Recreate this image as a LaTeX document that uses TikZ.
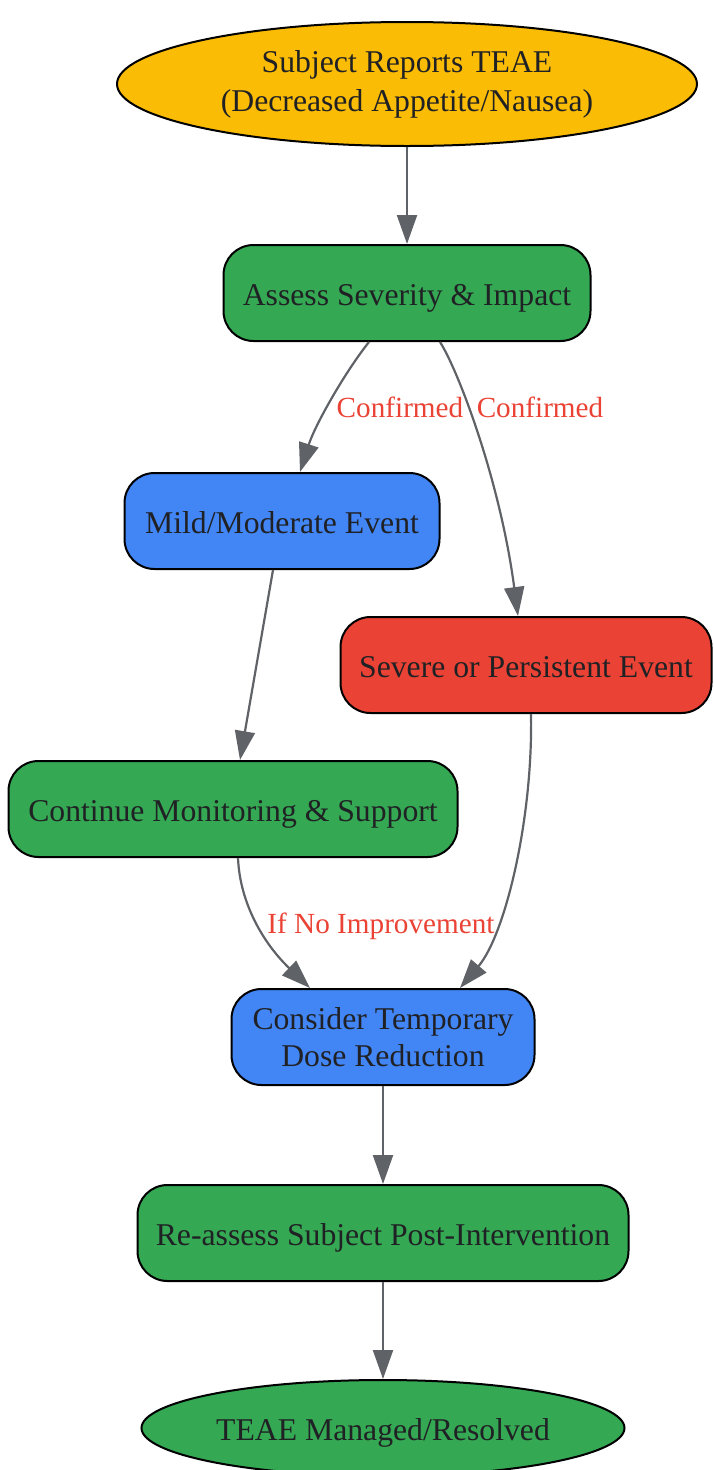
\documentclass[tikz,border=0pt]{standalone}
\usepackage{fontspec}
\setmainfont{Liberation Serif}
\usetikzlibrary{arrows.meta,shapes.geometric}

\definecolor{teaeyellow}{HTML}{FBBC05}
\definecolor{teaegreen}{HTML}{34A853}
\definecolor{teaeblue}{HTML}{4285F4}
\definecolor{teaered}{HTML}{EA4335}
\definecolor{flowgray}{HTML}{5F6368}
\definecolor{textdark}{HTML}{202124}

\tikzset{box/.style={draw=black,line width=2pt,rounded corners=30pt,minimum height=96pt,inner sep=0pt,align=center,text=textdark,font=\fontsize{31.7}{37}\selectfont},
box line/.style={box,text height=30pt,text depth=6pt},
oval/.style={ellipse,draw=black,line width=2pt,inner sep=0pt,align=center,text=textdark,font=\fontsize{31.7}{39}\selectfont},
flow/.style={draw=flowgray,line width=2.2pt,-{Triangle[length=29pt,width=20pt]}},
cond label/.style={text=teaered,font=\fontsize{29.2}{34}\selectfont,anchor=base,inner sep=0pt}}

\begin{document}
\begin{tikzpicture}[x=1pt,y=-1pt]
\useasboundingbox (0,0) rectangle (713,1470);

%% Nodes.
\node [oval,fill=teaeyellow,minimum width=580pt,minimum height=124pt] (report) at (407,84) {Subject Reports TEAE\\(Decreased Appetite/Nausea)};
\node [box line,fill=teaegreen,minimum width=367pt] (assess) at (407,293) {Assess Severity \& Impact};
\node [box line,fill=teaeblue,minimum width=315pt] (mild) at (282,521) {Mild/Moderate Event};
\node [box line,fill=teaered,minimum width=371pt] (severe) at (526,665) {Severe or Persistent Event};
\node [box line,fill=teaegreen,minimum width=449pt] (monitor) at (233,809) {Continue Monitoring \& Support};
\node [box,fill=teaeblue,minimum width=303pt] (dose) at (383,1037) {Consider Temporary\\Dose Reduction};
\node [box line,fill=teaegreen,minimum width=491pt] (reassess) at (383,1233) {Re-assess Subject Post-Intervention};
\node [oval,fill=teaegreen,minimum width=483pt,minimum height=96pt,text height=30pt,text depth=6pt] (resolved) at (383,1428) {TEAE Managed/Resolved};

%% straight edges
\draw [flow] (report) -- (assess);
\draw [flow] ([xshift=-9pt]mild.south) -- ([xshift=7pt]monitor.north);
\draw [flow] (dose) -- (reassess);
\draw [flow] (reassess) -- (resolved);

%% curved edges
\draw [flow] ([xshift=-38pt]assess.south) .. controls (345,372) and (315,425) .. ([xshift=18pt]mild.north);
\draw [flow] ([xshift=33pt]assess.south) .. controls (458,370) and (500,480) .. ([xshift=-8pt]severe.north);
\draw [flow] ([xshift=5pt]severe.south) .. controls (533,820) and (505,935) .. ([xshift=77pt]dose.north);
\draw [flow] ([xshift=5pt]monitor.south) .. controls (240,905) and (265,945) .. ([xshift=-73pt]dose.north);

%% edge labels
\node [cond label] (confmild) at (400,417) {Confirmed};
\node [cond label] (confsevere) at (540,417) {Confirmed};
\node [cond label] (noimprove) at (381,933) {If No Improvement};

\end{tikzpicture}
\end{document}
